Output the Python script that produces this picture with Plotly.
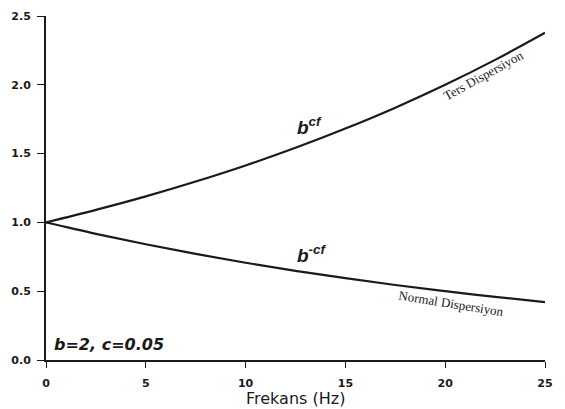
import plotly.graph_objects as go

freq = [0, 2.5, 5, 7.5, 10, 12.5, 15, 17.5, 20, 22.5, 25]
ters = [1.0, 1.091, 1.189, 1.297, 1.414, 1.542, 1.682, 1.834, 2.0, 2.181, 2.378]
normal = [1.0, 0.917, 0.841, 0.771, 0.707, 0.648, 0.595, 0.545, 0.5, 0.459, 0.420]
x_ticks = [0, 5, 10, 15, 20, 25]
y_ticks = [0.0, 0.5, 1.0, 1.5, 2.0, 2.5]
y_tick_labels = ["0.0", "0.5", "1.0", "1.5", "2.0", "2.5"]
x_title = "Frekans (Hz)"

fig = go.Figure()
for ys in (ters, normal):
    fig.add_trace(go.Scatter(x=freq, y=ys, mode="lines",
                             line=dict(color="#1a1a1a", width=2.2, shape="spline"),
                             showlegend=False, hoverinfo="skip"))

axfont = dict(family="DejaVu Sans", size=11, color="#1a1a1a")
fig.update_layout(
    width=565, height=409,
    margin=dict(l=46, r=20, t=16, b=49),
    paper_bgcolor="white", plot_bgcolor="white",
    xaxis=dict(range=[0, 25], tickvals=x_ticks, ticktext=[f"<b>{v}</b>" for v in x_ticks],
               showgrid=False, zeroline=False, showline=True, linecolor="#1a1a1a", linewidth=2,
               ticks="outside", ticklen=6, tickcolor="#1a1a1a", tickwidth=1, tickfont=axfont,
               ticklabelstandoff=6, automargin=False),
    yaxis=dict(range=[0, 2.5], tickvals=y_ticks, ticktext=[f"<b>{t}</b>" for t in y_tick_labels],
               showgrid=False, zeroline=False, showline=True, linecolor="#1a1a1a", linewidth=2,
               ticks="outside", ticklen=7, tickcolor="#1a1a1a", tickwidth=1, tickfont=axfont,
               ticklabelstandoff=4, automargin=False),
)

fig.add_annotation(x=0.5, y=0, xref="paper", yref="paper", yanchor="middle", yshift=-38,
                   showarrow=False, text=x_title, borderpad=0,
                   font=dict(family="DejaVu Sans", size=16, color="#1a1a1a"))
fig.add_annotation(x=13.2, y=1.70, xref="x", yref="y", showarrow=False,
                   text="<b><i>b<sup>cf</sup></i></b>",
                   font=dict(family="Liberation Sans", size=19, color="#1a1a1a"))
fig.add_annotation(x=13.3, y=0.77, xref="x", yref="y", showarrow=False,
                   text="<b><i>b<sup>-cf</sup></i></b>",
                   font=dict(family="Liberation Sans", size=19, color="#1a1a1a"))
fig.add_annotation(x=21.9, y=2.07, xref="x", yref="y", showarrow=False, textangle=-29,
                   text="Ters Dispersiyon",
                   font=dict(family="Liberation Serif", size=13, color="#1a1a1a"))
fig.add_annotation(x=20.3, y=0.41, xref="x", yref="y", showarrow=False, textangle=9,
                   text="Normal Dispersiyon",
                   font=dict(family="Liberation Serif", size=13, color="#1a1a1a"))
fig.add_annotation(x=0.3, y=0.11, xref="x", yref="y", showarrow=False, xanchor="left",
                   text="<b><i>b=2, c=0.05</i></b>",
                   font=dict(family="DejaVu Sans", size=16, color="#1a1a1a"))

fig.write_html("out.html")
